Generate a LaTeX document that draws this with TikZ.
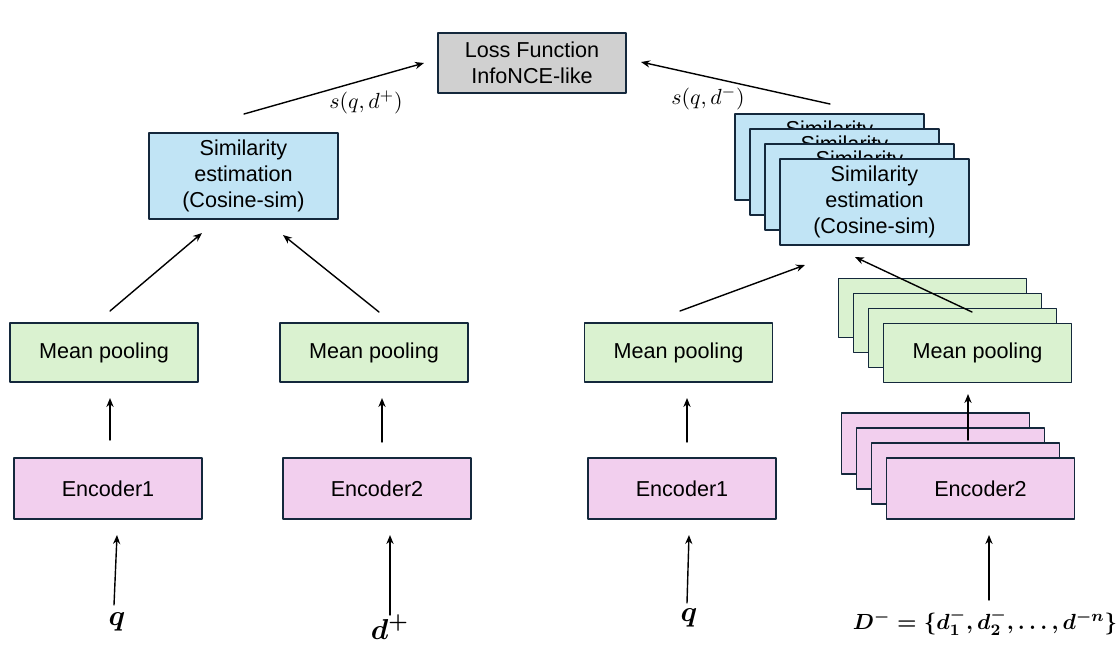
\documentclass[tikz,border=0pt]{standalone}
\usepackage{amsmath}
\usepackage{amssymb}
\usepackage{fontspec}
\setmainfont{Liberation Sans}
\usetikzlibrary{arrows.meta}
\definecolor{boxline}{HTML}{14283C}
\definecolor{lossgray}{HTML}{D0D0D0}
\definecolor{simblue}{HTML}{C1E4F5}
\definecolor{poolgreen}{HTML}{DAF2D0}
\definecolor{encpink}{HTML}{F2CFEE}

\begin{document}
\begin{tikzpicture}[x=0.5pt, y=-0.5pt, line cap=round, line join=round,
  >={Stealth[length=4.5pt,width=3.6pt]},
  box/.style={draw=boxline, line width=0.8pt, align=center, inner sep=0pt,
    font=\fontsize{10.8}{13}\selectfont},
  lossbox/.style={box, fill=lossgray, minimum width=94pt, minimum height=30pt},
  simbox/.style={box, fill=simblue, minimum width=94.5pt, minimum height=43pt},
  poolbox/.style={box, fill=poolgreen, minimum width=94pt, minimum height=29.5pt},
  encbox/.style={box, fill=encpink, minimum width=94pt, minimum height=30.5pt},
  arr/.style={->, line width=0.7pt},
  simlbl/.style={font=\fontsize{11}{13}\selectfont},
  inlbl/.style={font=\fontsize{15}{17}\selectfont}]
  \useasboundingbox (0,0) rectangle (1119,655);

  % loss on top
  \node[lossbox] (loss) at (532,63) {Loss Function\\InfoNCE-like};

  % positive branch
  \node[simbox] (simL) at (243.5,176) {Similarity\\estimation\\(Cosine-sim)};
  \node[poolbox] (poolA) at (104,352.5) {Mean pooling};
  \node[poolbox] (poolB) at (374,352.5) {Mean pooling};
  \node[encbox] (encA) at (108,488.5) {Encoder1};
  \node[encbox] (encB) at (377,488.5) {Encoder2};

  % negative branch, stacked copies behind
  \foreach \k in {3,2,1} {
    \node[simbox] (simS\k) at ({874.5-15*\k},{202-15*\k})
      {Similarity\\\phantom{estimation}\\\phantom{(Cosine-sim)}};
  }
  \node[simbox] (simR) at (874.5,202) {Similarity\\estimation\\(Cosine-sim)};
  \node[poolbox] (poolC) at (678.5,352.5) {Mean pooling};
  \foreach \k in {3,2,1} {
    \node[poolbox] (poolS\k) at ({977.5-15*\k},{353-15*\k}) {};
  }
  \node[poolbox] (poolD) at (977.5,353) {Mean pooling};
  \node[encbox] (encC) at (682,488.5) {Encoder1};
  \foreach \k in {3,2,1} {
    \node[encbox] (encS\k) at ({980.5-15*\k},{488.5-15*\k}) {};
  }
  \node[encbox] (encD) at (980.5,488.5) {Encoder2};

  % inputs
  \node[inlbl] (qA) at (117,622) {$\boldsymbol{q}$};
  \node[inlbl] (dP) at (390,627) {$\boldsymbol{d^{+}}$};
  \node[inlbl] (qC) at (689,618) {$\boldsymbol{q}$};
  \node[font=\fontsize{11}{13}\selectfont] (dN) at (985,622)
    {$\boldsymbol{D^{-}=\{d_1^{-},d_2^{-},\ldots,d^{-n}\}}$};

  % scores
  \node[simlbl] (sP) at (366,102) {$s(q,d^{+})$};
  \node[simlbl] (sN) at (708,98) {$s(q,d^{-})$};

  % arrow ends
  \coordinate (qA-s) at (114,605);  \coordinate (qA-e) at (117,535);
  \coordinate (dP-s) at (390,615);  \coordinate (dP-e) at (390,535);
  \coordinate (qC-s) at (687,603);  \coordinate (qC-e) at (689,535);
  \coordinate (dN-s) at (989,600);  \coordinate (dN-e) at (989,535);
  \coordinate (encA-o) at (110,440); \coordinate (poolA-i) at (110,398);
  \coordinate (encB-o) at (382,442); \coordinate (poolB-i) at (382,398);
  \coordinate (encC-o) at (687,442); \coordinate (poolC-i) at (687,398);
  \coordinate (encD-o) at (968,440); \coordinate (poolD-i) at (968,394);
  \coordinate (poolA-o) at (110,311); \coordinate (simL-a) at (202,233);
  \coordinate (poolB-o) at (379,312); \coordinate (simL-b) at (283,235);
  \coordinate (poolC-o) at (680,311); \coordinate (simR-a) at (805,265);
  \coordinate (poolD-o) at (972,312); \coordinate (simR-b) at (855,257);
  \coordinate (simL-o) at (244,114); \coordinate (loss-a) at (424,63);
  \coordinate (simR-o) at (830,104); \coordinate (loss-b) at (641,62);

  \draw[arr] (qA-s) -- (qA-e);
  \draw[arr] (dP-s) -- (dP-e);
  \draw[arr] (qC-s) -- (qC-e);
  \draw[arr] (dN-s) -- (dN-e);
  \draw[arr] (encA-o) -- (poolA-i);
  \draw[arr] (encB-o) -- (poolB-i);
  \draw[arr] (encC-o) -- (poolC-i);
  \draw[arr] (encD-o) -- (poolD-i);
  \draw[arr] (poolA-o) -- (simL-a);
  \draw[arr] (poolB-o) -- (simL-b);
  \draw[arr] (poolC-o) -- (simR-a);
  \draw[arr] (poolD-o) -- (simR-b);
  \draw[arr] (simL-o) -- (loss-a);
  \draw[arr] (simR-o) -- (loss-b);
\end{tikzpicture}
\end{document}
